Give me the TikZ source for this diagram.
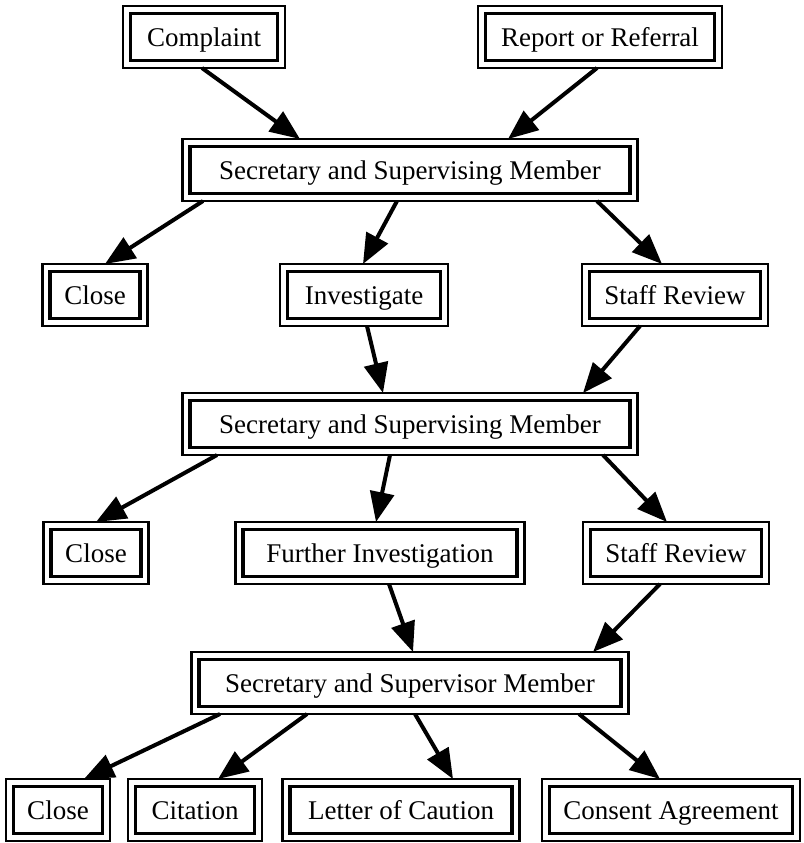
\documentclass[tikz,border=0pt]{standalone}
\usepackage{fontspec}
\setmainfont{Liberation Serif}
\usetikzlibrary{arrows.meta}
\tikzset{
  stage/.style={draw, line width=3.2pt, outer sep=7.5pt, minimum height=47pt,
    inner xsep=4pt, text height=21pt, text depth=2pt,
    font=\fontsize{27}{30}\selectfont},
  frame/.style={line width=2.2pt},
  flow/.style={line width=4pt, -{Triangle[length=30pt, width=24pt]}}
}

\begin{document}
\begin{tikzpicture}[x=1pt, y=-1pt]
  \useasboundingbox (0,0) rectangle (803,843);

  % Intake
  \node[stage, minimum width=147pt] (cmp) at (204,37) {Complaint};
  \node[stage, minimum width=229pt] (rep) at (600,37) {Report or Referral};
  \node[stage, minimum width=440pt] (sec1) at (410,170) {Secretary and Supervising Member};

  % First decision
  \node[stage, minimum width=90pt]  (cls1) at (95,295)  {Close};
  \node[stage, minimum width=153pt] (inv)  at (364,295) {Investigate};
  \node[stage, minimum width=171pt] (stf1) at (675,295) {Staff Review};
  \node[stage, minimum width=440pt] (sec2) at (410,424) {Secretary and Supervising Member};

  % Second decision
  \node[stage, minimum width=90pt]  (cls2) at (96,553)  {Close};
  \node[stage, minimum width=274pt] (fur)  at (380,553) {Further Investigation};
  \node[stage, minimum width=171pt] (stf2) at (676,553) {Staff Review};
  \node[stage, minimum width=422pt] (sec3) at (410,683) {Secretary and Supervisor Member};

  % Outcomes
  \node[stage, minimum width=89pt]  (cls3) at (58,810)  {Close};
  \node[stage, minimum width=119pt] (cit)  at (195,810) {Citation};
  \node[stage, minimum width=222pt] (let)  at (401,810) {Letter of Caution};
  \node[stage, minimum width=243pt] (con)  at (671,810) {Consent Agreement};

  % Outer frames
  \foreach \n in {cmp, rep, sec1, cls1, inv, stf1, sec2, cls2, fur, stf2, sec3, cls3, cit, let, con}
    \draw[frame] (\n.south west) rectangle (\n.north east);

  % Connectors (source/shift/target/shift)
  \foreach \a/\sa/\b/\sb in {
    cmp/-2/sec1/-110, rep/-3/sec1/98,
    sec1/-207/cls1/10, sec1/-13/inv/-1, sec1/187/stf1/-13,
    inv/3/sec2/-27, stf1/-35/sec2/173,
    sec2/-193/cls2/0, sec2/-20/fur/-4, sec2/193/stf2/-9,
    fur/9/sec3/3, stf2/-16/sec3/183,
    sec3/-190/cls3/26, sec3/-103/cit/23, sec3/5/let/52, sec3/169/con/-11
  } {
    \draw[flow] ([xshift=\sa pt]\a.south) -- ([xshift=\sb pt]\b.north);
  }
\end{tikzpicture}
\end{document}
